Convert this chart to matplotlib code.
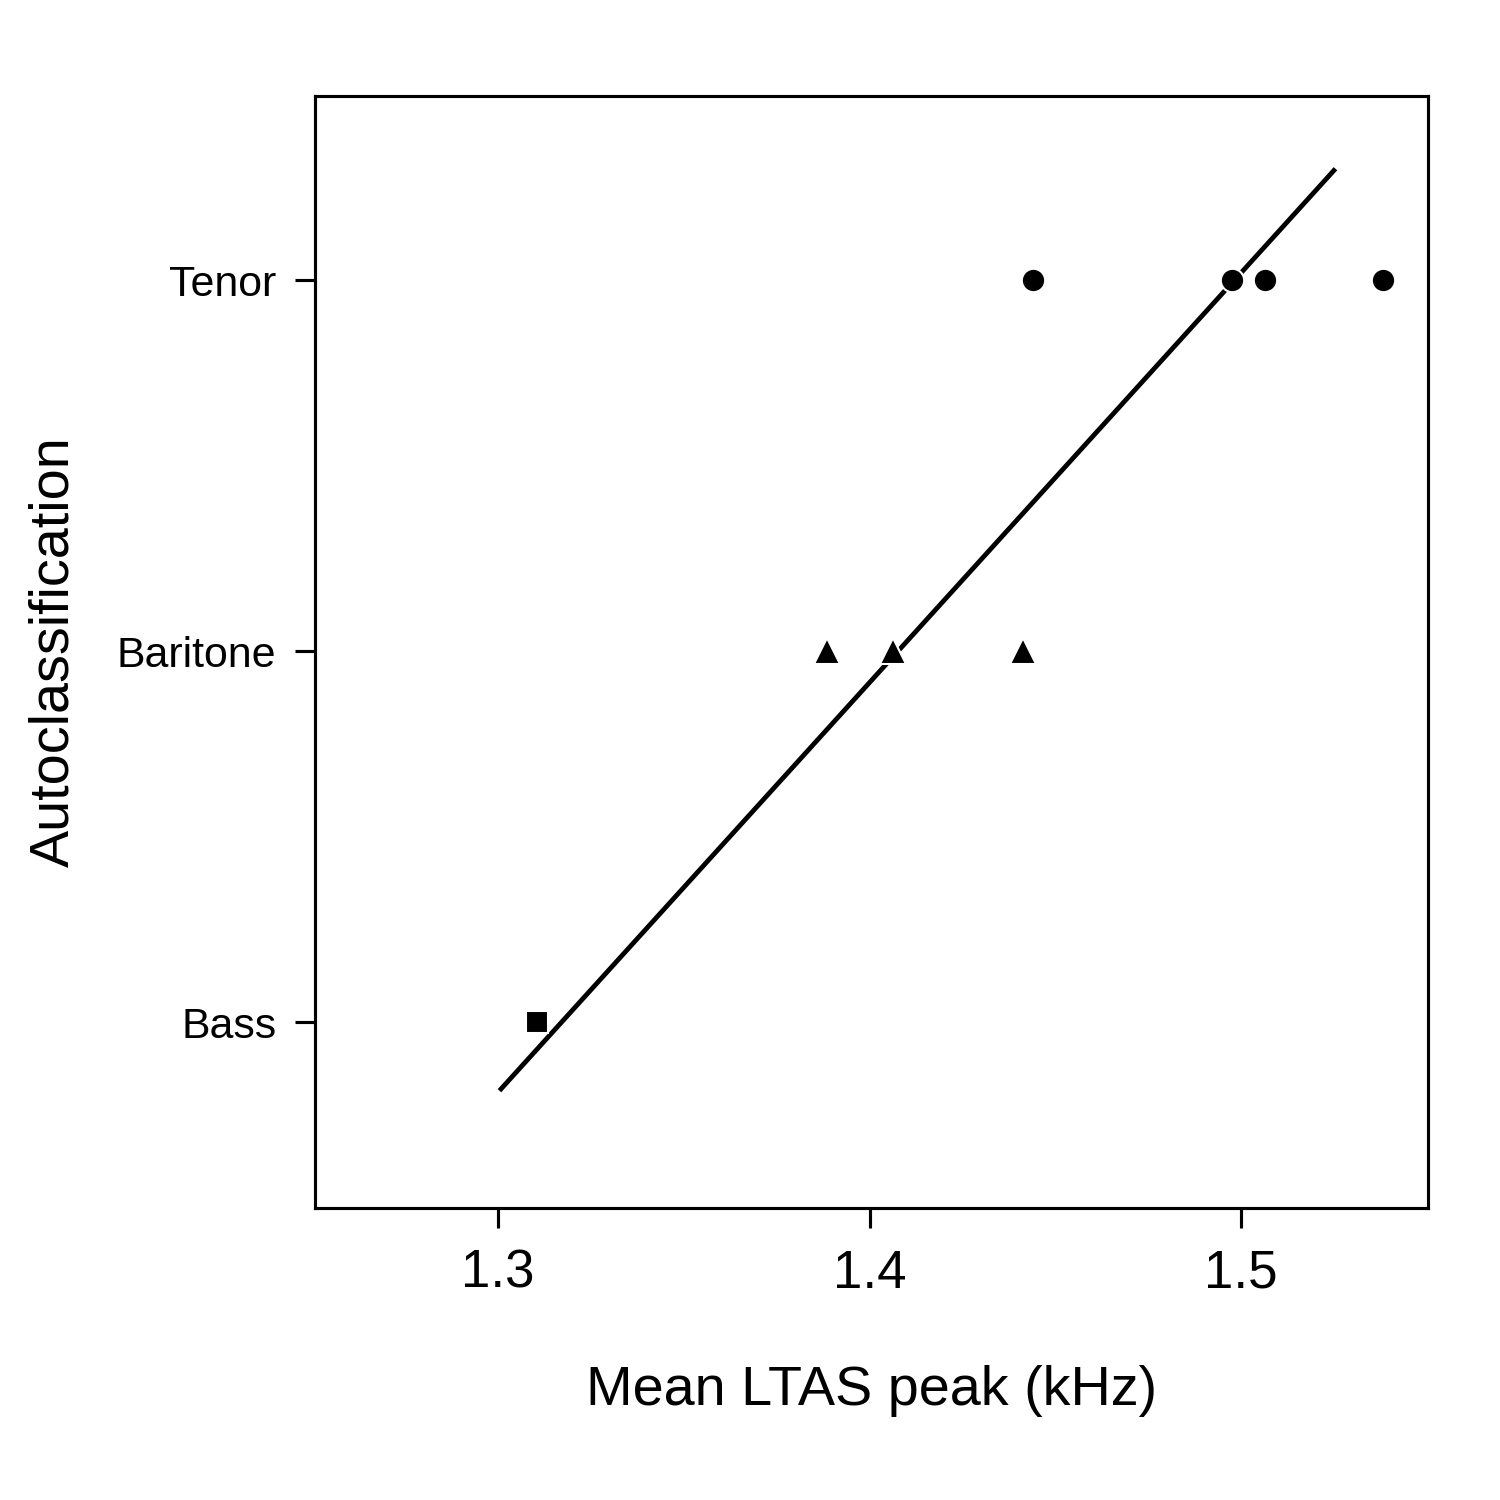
import numpy as np
import matplotlib as mpl

mpl.use('Agg')

import matplotlib.pyplot as plt
import matplotlib.transforms as mtransforms

plt.rcParams['font.family'] = ['Liberation Sans', 'DejaVu Sans']

classes = ['Bass', 'Baritone', 'Tenor']
class_level = [1, 2, 3]

bass_peak = [1.3105]
baritone_peak = [1.3886, 1.4063, 1.4413]
tenor_peak = [1.4440, 1.4976, 1.5065, 1.5382]

# span of the fitted line along the class axis
fit_span = [0.815, 3.30]


def main():
    fig = plt.figure(figsize=(5, 5), dpi=300)
    ax = fig.add_axes([0.21, 0.1947, 0.742, 0.7413])

    x = np.array(bass_peak + baritone_peak + tenor_peak)
    y = np.array([1] * len(bass_peak) + [2] * len(baritone_peak)
                 + [3] * len(tenor_peak), dtype=float)

    # regress peak frequency on class, then draw it in these axes
    slope, icept = np.polyfit(y, x, 1)
    yy = np.array(fit_span)
    ax.plot(slope * yy + icept, yy, color='black', lw=1.15,
            solid_capstyle='butt', zorder=2)

    kw = dict(color='black', mec='white', mew=0.5, ls='none', zorder=3)
    ax.plot(bass_peak, [1] * len(bass_peak), 's', ms=5.4, **kw)
    ax.plot(baritone_peak, [2] * len(baritone_peak), '^', ms=6.2, **kw)
    ax.plot(tenor_peak, [3] * len(tenor_peak), 'o', ms=5.6, **kw)

    ax.set_xlim(1.2507, 1.5503)
    ax.set_ylim(0.499, 3.496)
    ax.set_xticks([1.3, 1.4, 1.5])
    ax.set_xticklabels(['1.3', '1.4', '1.5'], fontsize=12.7)
    ax.set_yticks(class_level)
    ax.set_yticklabels([])

    # category names drawn by hand: R sets them a bit lower than mpl does
    trans = mtransforms.offset_copy(ax.get_yaxis_transform(), fig=fig,
                                    x=-9.3, y=-1.3, units='points')
    for lev, name in zip(class_level, classes):
        ax.text(0, lev, name, transform=trans, ha='right', va='center',
                fontsize=10.3, clip_on=False)

    for s in ax.spines.values():
        s.set_linewidth(0.75)
    ax.tick_params(direction='out', length=4.8, width=0.75)
    ax.tick_params(axis='x', pad=5)

    ax.set_xlabel('Mean LTAS peak (kHz)', fontsize=13.4, labelpad=16)
    ax.set_ylabel('Autoclassification', fontsize=13.4)
    ax.yaxis.set_label_coords(-0.211, 0.5)

    fig.savefig('out.png', dpi=300, facecolor='white')


if __name__ == '__main__':
    main()
